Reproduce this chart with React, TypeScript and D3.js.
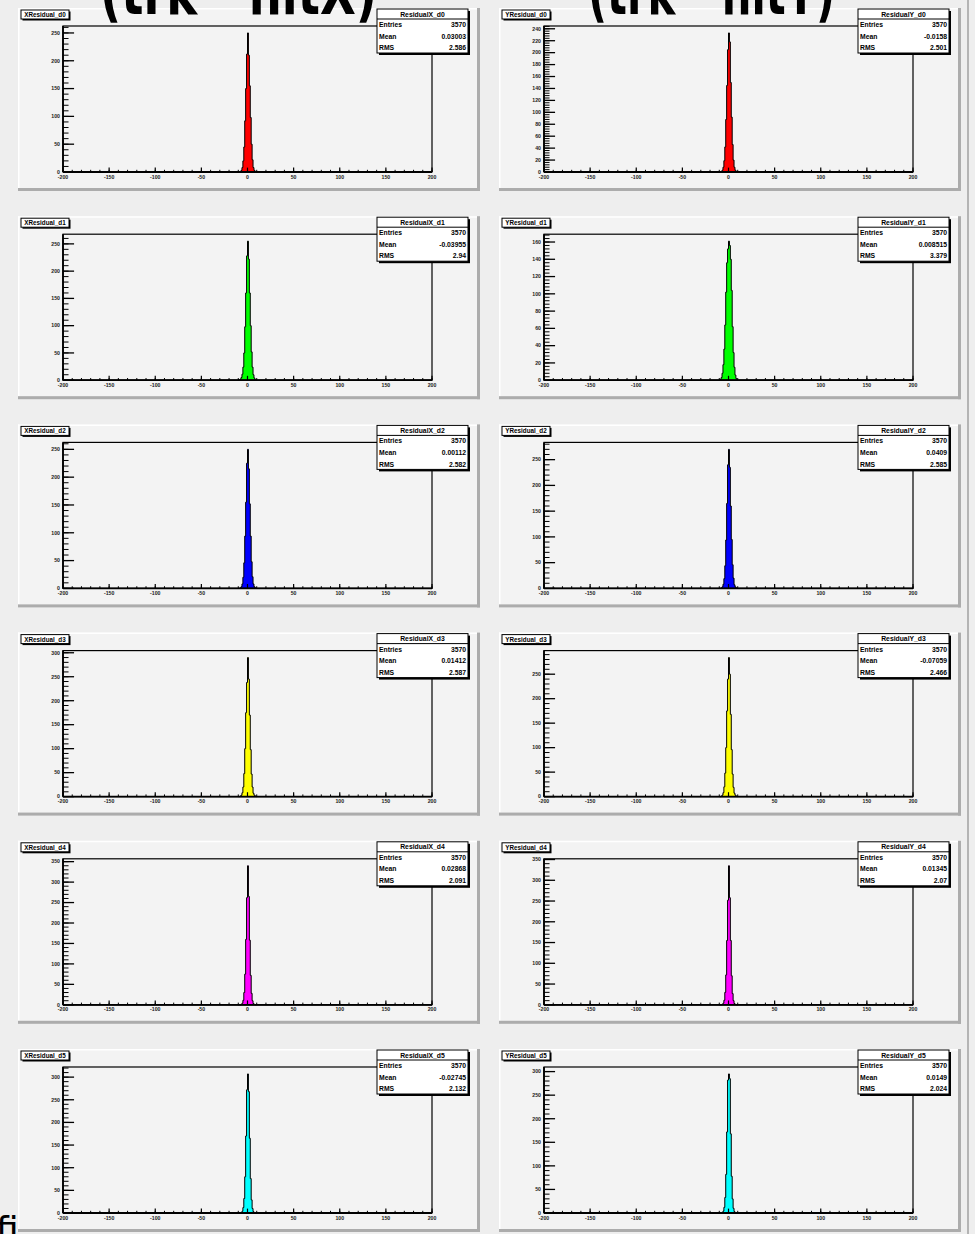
import React from "react";
import * as d3 from "d3";

// ---------- DATA ----------
// histogram bins: width 1, first lower edge -10 (covers -10 .. 10)
const BIN_LOW = -10;
const BIN_WIDTH = 1;

const xResidualD0 = [0, 0, 1, 3, 8, 20, 45, 92, 150, 212, 250, 210, 155, 98, 50, 22, 8, 3, 1, 0];
const yResidualD0 = [0, 0, 1, 3, 8, 19, 42, 88, 145, 205, 233, 218, 150, 92, 46, 20, 8, 3, 1, 0];
const xResidualD1 = [0, 1, 2, 5, 11, 24, 50, 98, 160, 228, 255, 222, 160, 100, 52, 24, 10, 4, 1, 0];
const yResidualD1 = [0, 1, 3, 8, 18, 36, 64, 102, 136, 152, 161, 156, 140, 104, 62, 32, 15, 6, 2, 1];
const xResidualD2 = [0, 0, 1, 3, 8, 20, 46, 94, 155, 225, 250, 215, 152, 94, 48, 21, 8, 3, 1, 0];
const yResidualD2 = [0, 0, 1, 3, 8, 19, 44, 94, 165, 240, 270, 235, 160, 95, 46, 20, 7, 3, 1, 0];
const xResidualD3 = [0, 0, 1, 3, 8, 20, 48, 100, 175, 238, 290, 245, 170, 98, 47, 20, 7, 3, 1, 0];
const yResidualD3 = [0, 0, 1, 3, 8, 20, 48, 100, 175, 240, 284, 250, 168, 96, 46, 19, 7, 3, 1, 0];
const xResidualD4 = [0, 0, 0, 1, 4, 11, 30, 75, 160, 262, 340, 265, 158, 72, 28, 10, 3, 1, 0, 0];
const yResidualD4 = [0, 0, 0, 1, 4, 11, 30, 72, 155, 252, 335, 258, 155, 70, 27, 10, 3, 1, 0, 0];
const xResidualD5 = [0, 0, 0, 1, 4, 12, 32, 80, 170, 272, 307, 268, 165, 76, 29, 10, 3, 1, 0, 0];
const yResidualD5 = [0, 0, 0, 1, 4, 12, 33, 82, 172, 282, 295, 285, 168, 78, 30, 10, 3, 1, 0, 0];

const histograms = [
  xResidualD0, yResidualD0,
  xResidualD1, yResidualD1,
  xResidualD2, yResidualD2,
  xResidualD3, yResidualD3,
  xResidualD4, yResidualD4,
  xResidualD5, yResidualD5,
];

const padTitles = [
  "XResidual_d0", "YResidual_d0",
  "XResidual_d1", "YResidual_d1",
  "XResidual_d2", "YResidual_d2",
  "XResidual_d3", "YResidual_d3",
  "XResidual_d4", "YResidual_d4",
  "XResidual_d5", "YResidual_d5",
];
const statTitles = [
  "ResidualX_d0", "ResidualY_d0",
  "ResidualX_d1", "ResidualY_d1",
  "ResidualX_d2", "ResidualY_d2",
  "ResidualX_d3", "ResidualY_d3",
  "ResidualX_d4", "ResidualY_d4",
  "ResidualX_d5", "ResidualY_d5",
];
const entries = ["3570", "3570", "3570", "3570", "3570", "3570", "3570", "3570", "3570", "3570", "3570", "3570"];
const means = ["0.03003", "-0.0158", "-0.03955", "0.008515", "0.00112", "0.0409", "0.01412", "-0.07059", "0.02868", "0.01345", "-0.02745", "0.0149"];
const rmsValues = ["2.586", "2.501", "2.94", "3.379", "2.582", "2.585", "2.587", "2.466", "2.091", "2.07", "2.132", "2.024"];
const yLabelSteps = [50, 20, 50, 20, 50, 50, 50, 50, 50, 50, 50, 50];
const fillColors = ["#ff0000", "#ff0000", "#00ff00", "#00ff00", "#0000ff", "#0000ff", "#ffff00", "#ffff00", "#ff00ff", "#ff00ff", "#00ffff", "#00ffff"];

const X_MIN = -200;
const X_MAX = 200;
const X_LABELS = ["-200", "-150", "-100", "-50", "0", "50", "100", "150", "200"];
const handwritten = ["(trk - hitX)", "(trk - hitY)"];

// ---------- LAYOUT ----------
const W = 975;
const H = 1234;
const PAD_X = [18, 499];
const PAD_Y0 = 8;
const PAD_DY = 208.2;
const PAD_W = 459;
const PAD_H = 180;
const FONT = "'Liberation Sans', Arial, sans-serif";

function Panel({ i }: { i: number }) {
  const col = i % 2;
  const row = Math.floor(i / 2);
  const px = PAD_X[col];
  const py = PAD_Y0 + row * PAD_DY;
  const data = histograms[i];
  const ymax = (d3.max(data) as number) * 1.05;

  const fl = px + 45, fr = px + 414, ft = py + 18, fb = py + 164;
  const x = d3.scaleLinear().domain([X_MIN, X_MAX]).range([fl, fr]);
  const y = d3.scaleLinear().domain([0, ymax]).range([fb, ft]);

  const pts: [number, number][] = data.map((v, k) => [BIN_LOW + k * BIN_WIDTH, v]);
  const last = BIN_LOW + data.length * BIN_WIDTH;
  const areaPts: [number, number][] = [...pts, [last, data[data.length - 1]]];
  const area = d3
    .area<[number, number]>()
    .curve(d3.curveStepAfter)
    .x((d) => x(d[0]))
    .y0(y(0))
    .y1((d) => y(d[1]));
  const linePts: [number, number][] = [[BIN_LOW, 0], ...areaPts, [last, 0]];
  const line = d3
    .line<[number, number]>()
    .curve(d3.curveStepAfter)
    .x((d) => x(d[0]))
    .y((d) => y(d[1]));

  const xMajor = d3.range(X_MIN, X_MAX + 0.1, 50);
  const xMinor = d3.range(X_MIN, X_MAX + 0.1, 10);
  const step = yLabelSteps[i];
  const yMajor = d3.range(0, ymax + 0.001, step);
  const yMinor = d3.range(0, ymax + 0.001, step / 5);
  const yTickLen = (fr - fl) * 0.03;
  const xTickLen = (fb - ft) * 0.03;

  const sx = px + 359, sy = py + 1, sw = 91, sh = 44;

  return (
    <g>
      {/* pad */}
      <rect x={px} y={py} width={PAD_W} height={PAD_H} fill="#f3f3f3" />
      <line x1={px} x2={px + PAD_W} y1={py + 0.75} y2={py + 0.75} stroke="#ffffff" strokeWidth={1.5} />
      <line x1={px + 0.75} x2={px + 0.75} y1={py} y2={py + PAD_H} stroke="#ffffff" strokeWidth={1.5} />
      <rect x={px} y={py + PAD_H} width={PAD_W + 3} height={3} fill="#acacac" />
      <rect x={px + PAD_W} y={py} width={3} height={PAD_H + 3} fill="#acacac" />

      {/* histogram */}
      <path d={area(areaPts) || ""} fill={fillColors[i]} stroke="none" />
      <line x1={fl} x2={fr} y1={y(0)} y2={y(0)} stroke="#000" strokeWidth={1} />
      <path d={line(linePts) || ""} fill="none" stroke="#000" strokeWidth={1} />

      {/* frame */}
      <rect x={fl} y={ft} width={fr - fl} height={fb - ft} fill="none" stroke="#000" strokeWidth={1.2} />
      <line x1={fl} x2={fr} y1={fb} y2={fb} stroke="#000" strokeWidth={1.8} />
      <line x1={fl} x2={fl} y1={ft} y2={fb} stroke="#000" strokeWidth={1.8} />

      {/* x ticks */}
      {xMinor.map((v) => (
        <line key={"xm" + v} x1={x(v)} x2={x(v)} y1={fb} y2={fb - xTickLen / 2} stroke="#000" strokeWidth={1} />
      ))}
      {xMajor.map((v) => (
        <line key={"xM" + v} x1={x(v)} x2={x(v)} y1={fb} y2={fb - xTickLen} stroke="#000" strokeWidth={1.2} />
      ))}
      {xMajor.map((v, k) => (
        <text key={"xl" + v} x={x(v)} y={fb + 6.5} fontSize={5.2} fontFamily={FONT} fontWeight="bold" textAnchor="middle" fill="#222">
          {X_LABELS[k]}
        </text>
      ))}

      {/* y ticks */}
      {yMinor.map((v) => (
        <line key={"ym" + v} x1={fl} x2={fl + yTickLen / 2} y1={y(v)} y2={y(v)} stroke="#000" strokeWidth={1} />
      ))}
      {yMajor.map((v) => (
        <line key={"yM" + v} x1={fl} x2={fl + yTickLen} y1={y(v)} y2={y(v)} stroke="#000" strokeWidth={1.3} />
      ))}
      {yMajor.map((v) => (
        <text key={"yl" + v} x={fl - 3} y={y(v) + 1.8} fontSize={5.2} fontFamily={FONT} fontWeight="bold" textAnchor="end" fill="#222">
          {String(v)}
        </text>
      ))}

      {/* title box */}
      <rect x={px + 4.5} y={py + 3.5} width={48} height={9} fill="#000" />
      <rect x={px + 3} y={py + 2} width={48} height={9} fill="#ffffff" stroke="#000" strokeWidth={1} />
      <text x={px + 27} y={py + 9} fontSize={6.3} fontFamily={FONT} fontWeight="bold" textAnchor="middle" fill="#000">
        {padTitles[i]}
      </text>

      {/* stats box */}
      <rect x={sx + 2} y={sy + 2} width={sw} height={sh} fill="#000" />
      <rect x={sx} y={sy} width={sw} height={sh} fill="#ffffff" stroke="#000" strokeWidth={1} />
      <line x1={sx} x2={sx + sw} y1={sy + 10} y2={sy + 10} stroke="#000" strokeWidth={1} />
      <text x={sx + sw / 2} y={sy + 7.5} fontSize={6.8} fontFamily={FONT} fontWeight="bold" textAnchor="middle" fill="#000">
        {statTitles[i]}
      </text>
      {[
        ["Entries", entries[i]],
        ["Mean", means[i]],
        ["RMS", rmsValues[i]],
      ].map(([k, v], r) => (
        <g key={k}>
          <text x={sx + 2} y={sy + 18 + r * 11.6} fontSize={6.8} fontFamily={FONT} fontWeight="bold" fill="#000">
            {k}
          </text>
          <text x={sx + sw - 2} y={sy + 18 + r * 11.6} fontSize={6.8} fontFamily={FONT} fontWeight="bold" textAnchor="end" fill="#000">
            {v}
          </text>
        </g>
      ))}
    </g>
  );
}

export default function App() {
  const sL = 0.75;
  const sR = 0.67;
  return (
    <svg width={W} height={H} style={{ position: "absolute", left: 0, top: 0, display: "block" }}>
      <rect x={0} y={0} width={W} height={H} fill="#eeeeee" />
      <line x1={968} x2={968} y1={0} y2={H} stroke="#b4b4b4" strokeWidth={2} />
      {histograms.map((_, i) => (
        <Panel key={i} i={i} />
      ))}
      {/* handwritten annotations, cut off at the top */}
      <text transform={`translate(100,14) scale(${sL},1)`} x={0} y={0} fontSize={62} fontFamily="'DejaVu Sans', sans-serif" fontWeight="bold" textLength={277 / sL} lengthAdjust="spacingAndGlyphs" fill="#000">
        {handwritten[0]}
      </text>
      <text transform={`translate(588,14) scale(${sR},1)`} x={0} y={0} fontSize={62} fontFamily="'DejaVu Sans', sans-serif" fontWeight="bold" textLength={247 / sR} lengthAdjust="spacingAndGlyphs" fill="#000">
        {handwritten[1]}
      </text>
      <text x={-4} y={1242} fontSize={36} fontFamily="'DejaVu Sans', sans-serif" fill="#000">
        fi
      </text>
    </svg>
  );
}
